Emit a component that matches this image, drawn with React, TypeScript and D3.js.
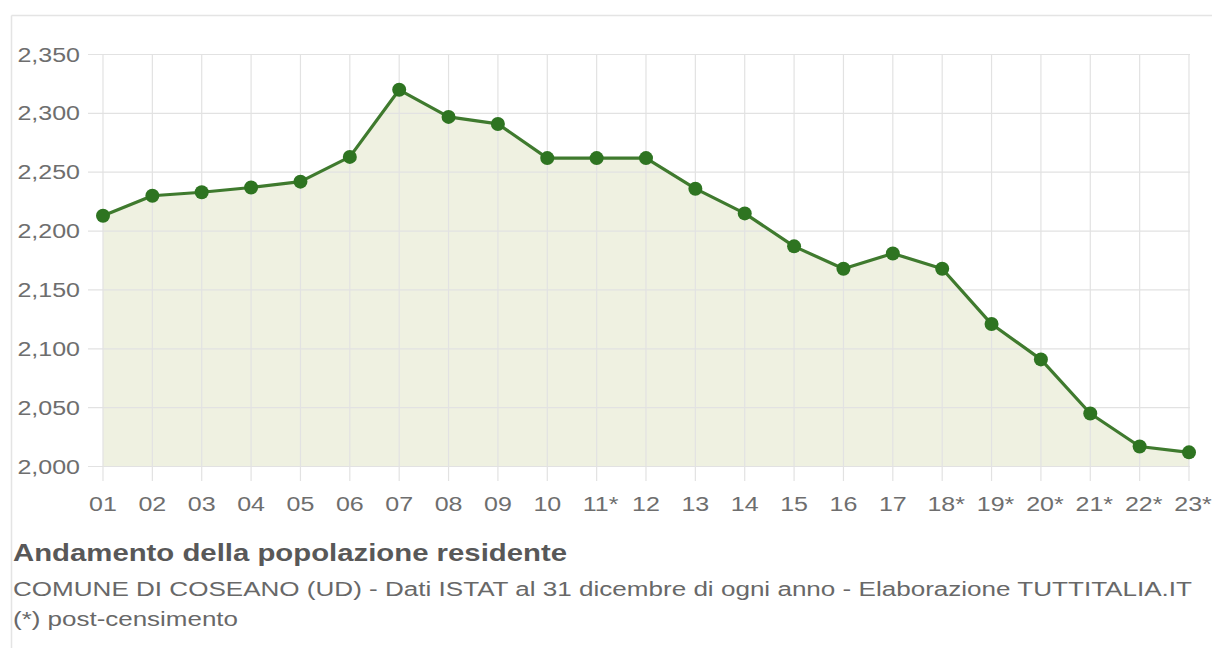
import React, { useEffect, useRef } from "react";
import * as d3 from "d3";

const years = ["01", "02", "03", "04", "05", "06", "07", "08", "09", "10", "11*", "12", "13", "14", "15", "16", "17", "18*", "19*", "20*", "21*", "22*", "23*"];
const population = [2213, 2230, 2233, 2237, 2242, 2263, 2320, 2297, 2291, 2262, 2262, 2262, 2236, 2215, 2187, 2168, 2181, 2168, 2121, 2091, 2045, 2017, 2012];
const yTicks = [2000, 2050, 2100, 2150, 2200, 2250, 2300, 2350];

const title = "Andamento della popolazione residente";
const subtitle = "COMUNE DI COSEANO (UD) - Dati ISTAT al 31 dicembre di ogni anno - Elaborazione TUTTITALIA.IT";
const footnote = "(*) post-censimento";

const W = 1212;
const H = 648;
const FONT = "'Liberation Sans', Arial, sans-serif";
// the source picture is stretched sideways, text included
const SX = 1.25;

export default function App() {
  const svgRef = useRef<SVGSVGElement>(null);

  useEffect(() => {
    if (!svgRef.current) return;
    const svg = d3.select(svgRef.current);
    svg.selectAll("*").remove();

    const x = d3.scalePoint<string>().domain(years).range([103, 1189]);
    const y = d3.scaleLinear().domain([2000, 2350]).range([466.5, 54.5]);

    // outer frame
    svg.append("line").attr("x1", 11.5).attr("x2", W).attr("y1", 15.5).attr("y2", 15.5)
      .attr("stroke", "#e4e4e4").attr("stroke-width", 1.5);
    svg.append("line").attr("x1", 11.5).attr("x2", 11.5).attr("y1", 15.5).attr("y2", H)
      .attr("stroke", "#e4e4e4").attr("stroke-width", 1.5);

    // area fill
    const area = d3.area<number>()
      .x((_, i) => x(years[i])!)
      .y0(y(2000))
      .y1((d) => y(d));
    svg.append("path").datum(population).attr("d", area).attr("fill", "#eff1e1");

    // grid
    svg.append("g").selectAll("line").data(yTicks).join("line")
      .attr("x1", 88).attr("x2", 1190)
      .attr("y1", (d) => y(d)).attr("y2", (d) => y(d))
      .attr("stroke", "#e2e2e2").attr("stroke-width", 1.2);
    svg.append("g").selectAll("line").data(years).join("line")
      .attr("x1", (d) => x(d)!).attr("x2", (d) => x(d)!)
      .attr("y1", y(2350)).attr("y2", 481)
      .attr("stroke", "#e2e2e2").attr("stroke-width", 1.2);

    // y labels
    svg.append("g").selectAll("text").data(yTicks).join("text")
      .attr("transform", (d) => `translate(80,${y(d)}) scale(${SX},1)`)
      .attr("dy", "0.35em")
      .attr("text-anchor", "end")
      .attr("font-family", FONT).attr("font-size", 20).attr("fill", "#6e6e6e")
      .text((d) => d3.format(",")(d));

    // x labels
    svg.append("g").selectAll("text").data(years).join("text")
      .attr("transform", (d) => `translate(${x(d)! + (d.endsWith("*") ? 4 : 0)},511) scale(${SX},1)`)
      .attr("text-anchor", "middle")
      .attr("font-family", FONT).attr("font-size", 20).attr("fill", "#6e6e6e")
      .text((d) => d);

    // line
    const line = d3.line<number>()
      .x((_, i) => x(years[i])!)
      .y((d) => y(d));
    svg.append("path").datum(population).attr("d", line)
      .attr("fill", "none").attr("stroke", "#3f7a2e").attr("stroke-width", 3.2)
      .attr("stroke-linejoin", "round");

    // markers
    svg.append("g").selectAll("circle").data(population).join("circle")
      .attr("cx", (_, i) => x(years[i])!).attr("cy", (d) => y(d))
      .attr("r", 7).attr("fill", "#2e7421");

    // captions
    svg.append("text").attr("x", 13).attr("y", 561)
      .attr("font-family", FONT).attr("font-size", 24).attr("font-weight", "bold")
      .attr("fill", "#585858")
      .attr("textLength", 554).attr("lengthAdjust", "spacingAndGlyphs").text(title);
    svg.append("text").attr("x", 13).attr("y", 596)
      .attr("font-family", FONT).attr("font-size", 20)
      .attr("fill", "#686868")
      .attr("textLength", 1179).attr("lengthAdjust", "spacingAndGlyphs").text(subtitle);
    svg.append("text").attr("x", 13).attr("y", 626)
      .attr("font-family", FONT).attr("font-size", 20)
      .attr("fill", "#686868")
      .attr("textLength", 225).attr("lengthAdjust", "spacingAndGlyphs").text(footnote);
  }, []);

  return (
    <div style={{ position: "absolute", left: 0, top: 0, width: W, height: H, background: "#fff" }}>
      <svg ref={svgRef} width={W} height={H} />
    </div>
  );
}
